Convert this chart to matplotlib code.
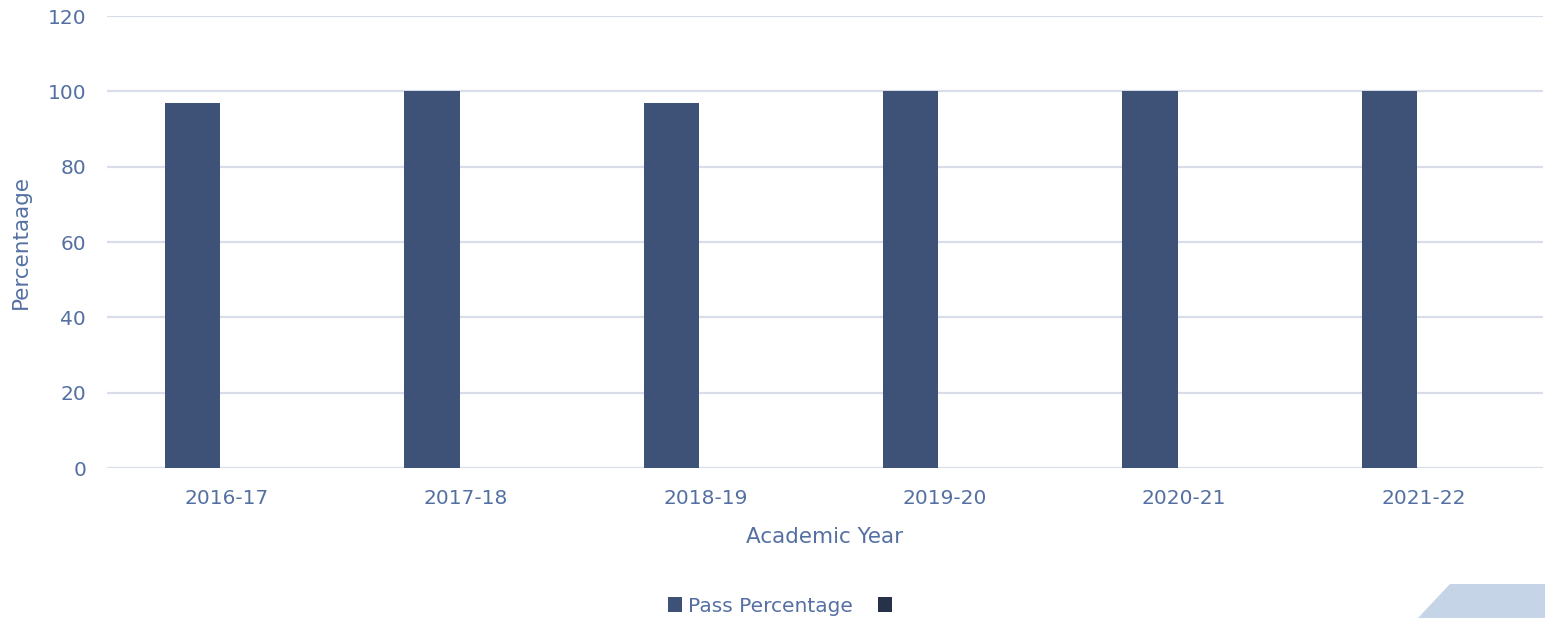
import matplotlib
matplotlib.use("Agg")
import matplotlib.pyplot as plt
from matplotlib.patches import Polygon, Patch
import numpy as np

years = ["2016-17", "2017-18", "2018-19", "2019-20", "2020-21", "2021-22"]
pass_pct = [97, 100, 97, 100, 100, 100]
second_series = [0, 0, 0, 0, 0, 0]
yticks = [0, 20, 40, 60, 80, 100, 120]

text_c = "#5470a3"
bar_c = "#3e5277"
bar2_c = "#263248"
grid_c = "#d9dde9"

plt.rcParams['font.family'] = ['DejaVu Sans']
fig = plt.figure(figsize=(15.45, 6.18), dpi=100)
ax = fig.add_axes([107/1545, 1-468/618, (1543-107)/1545, (468-16)/618])

x = np.arange(len(years))
w = 0.23
ax.bar(x - 0.142, pass_pct, width=w, color=bar_c, linewidth=0, zorder=3)
ax.bar(x + 0.142, second_series, width=w, color=bar2_c, linewidth=0, zorder=3)

ax.set_xlim(-0.5, len(years) - 0.5)
ax.set_ylim(0, 120)
ax.set_yticks(yticks)
ax.set_xticks(x)
ax.set_xticklabels(years)
ax.tick_params(axis='both', length=0, colors=text_c, labelsize=14.5)
ax.tick_params(axis='y', pad=15)
ax.tick_params(axis='x', pad=15)
ax.yaxis.grid(True, color=grid_c, linewidth=1.6, zorder=0)
for s in ax.spines.values():
    s.set_visible(False)
ax.set_axisbelow(True)

ax.set_ylabel("Percentaage", color=text_c, fontsize=15.5, labelpad=12)
ax.set_xlabel("Academic Year", color=text_c, fontsize=15.5, labelpad=14)

handles = [Patch(facecolor=bar_c), Patch(facecolor=bar2_c)]
fig.legend(handles, ["Pass Percentage", ""], loc="center", bbox_to_anchor=(783/1545, 1-606/618),
           ncol=2, frameon=False, fontsize=14.5, labelcolor=text_c,
           handlelength=0.7, handleheight=0.7, handletextpad=0.3, columnspacing=1.2)

poly = Polygon([[1418/1545, 0], [1450/1545, 1-584/618], [1.0, 1-584/618], [1.0, 0]],
               closed=True, transform=fig.transFigure, facecolor="#c6d4e7", edgecolor="none")
fig.patches.append(poly)

fig.savefig("out.png", dpi=100)
